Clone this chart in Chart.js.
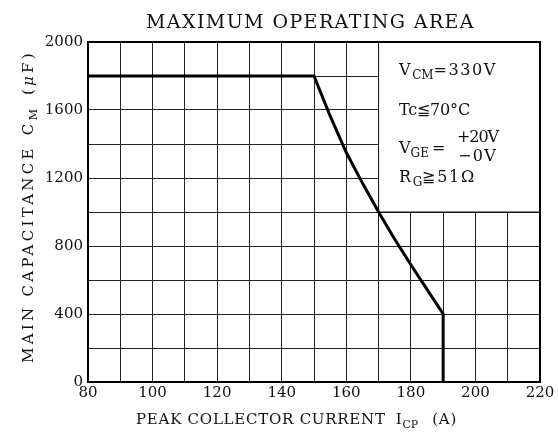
<!DOCTYPE html>
<html>
<head>
<meta charset="utf-8">
<script src="https://cdn.jsdelivr.net/npm/chart.js@4/dist/chart.umd.min.js"></script>
<style>
  html, body { margin: 0; padding: 0; background: #fff; }
  #wrap { width: 558px; height: 446px; }
</style>
</head>
<body>
<div id="wrap"><canvas id="moaChart"></canvas></div>
<script>
// peak collector current (A) vs main capacitance (uF) limit
const currentA = [80, 150, 155, 160, 165, 170, 175, 180, 185, 190, 190];
const capacitanceUF = [1800, 1800, 1565, 1350, 1170, 1000, 840, 690, 545, 400, 0];

const xRange = [80, 220];
const yRange = [0, 2000];
const xLabelStep = 20;
const yLabelStep = 400;

// region kept free for the conditions box
const boxX = [170, 220];
const boxY = [1000, 2000];

const SERIF = '"DejaVu Serif", "Liberation Serif", serif';

function font(size, italic) {
   return (italic ? 'italic ' : '') + size + 'px ' + SERIF;
}

// subscripts (sub: true) keep natural spacing, the rest is spread out
function countChars(parts) {
   return parts.reduce((n, p) => n + (p.sub ? 0 : [...p.t].length), 0);
}

function partsWidth(ctx, parts) {
   ctx.letterSpacing = '0px';
   let w = 0;
   parts.forEach(p => {
      ctx.font = font(p.size, p.italic);
      w += ctx.measureText(p.t).width + (p.gap || 0);
   });
   return w;
}

// draws a run of text parts {t, size, dy, italic, gap, sub}, spread to a given width
function drawParts(ctx, parts, x, y, width) {
   let spacing = 0;
   if (width) {
      spacing = (width - partsWidth(ctx, parts)) / countChars(parts);
   }
   let cx = x;
   parts.forEach(p => {
      ctx.letterSpacing = (p.sub ? 0 : spacing) + 'px';
      ctx.font = font(p.size, p.italic);
      ctx.fillText(p.t, cx, y + (p.dy || 0));
      cx += ctx.measureText(p.t).width + (p.gap || 0);
   });
   ctx.letterSpacing = '0px';
   return cx - x;
}

const titleParts = [{ t: 'MAXIMUM OPERATING AREA', size: 19 }];
const xTitleParts = [
   { t: 'PEAK COLLECTOR CURRENT', size: 15, gap: 10 },
   { t: 'I', size: 15 },
   { t: 'CP', size: 11, dy: 4, gap: 14, sub: true },
   { t: '(A)', size: 15 }
];
const yTitleParts = [
   { t: 'MAIN CAPACITANCE', size: 15, gap: 10 },
   { t: 'C', size: 15 },
   { t: 'M', size: 11, dy: 4, gap: 14, sub: true },
   { t: '(', size: 15 },
   { t: 'μ', size: 15, italic: true },
   { t: 'F)', size: 15 }
];

const decorPlugin = {
   id: 'decor',
   beforeDatasetsDraw(chart) {
      const { ctx, scales: { x, y } } = chart;
      const l = x.getPixelForValue(boxX[0]), r = x.getPixelForValue(boxX[1]);
      const t = y.getPixelForValue(boxY[1]), b = y.getPixelForValue(boxY[0]);
      ctx.save();
      ctx.fillStyle = '#fff';
      ctx.fillRect(l, t, r - l, b - t);
      ctx.strokeStyle = '#111';
      ctx.lineWidth = 1;
      ctx.beginPath();
      ctx.moveTo(l, t);
      ctx.lineTo(l, b);
      ctx.lineTo(r, b);
      ctx.stroke();
      ctx.restore();
   },
   afterDatasetsDraw(chart) {
      const { ctx, chartArea: a } = chart;
      ctx.save();
      ctx.strokeStyle = '#000';
      ctx.lineWidth = 2;
      ctx.strokeRect(a.left, a.top, a.right - a.left, a.bottom - a.top);
      ctx.restore();
   },
   afterDraw(chart) {
      const ctx = chart.ctx;
      ctx.save();
      ctx.fillStyle = '#111';
      ctx.textBaseline = 'alphabetic';
      ctx.textAlign = 'left';

      drawParts(ctx, titleParts, 146, 28, 329);
      drawParts(ctx, xTitleParts, 136, 424, 321);

      ctx.save();
      ctx.translate(33, 363);
      ctx.rotate(-Math.PI / 2);
      drawParts(ctx, yTitleParts, 0, 0, 313);
      ctx.restore();

      // test conditions
      const lx = 399;
      drawParts(ctx, [
         { t: 'V', size: 16 },
         { t: 'CM', size: 12, dy: 4, sub: true },
         { t: '=330V', size: 16 }
      ], lx, 75, 98);
      drawParts(ctx, [{ t: 'Tc≦70°C', size: 16 }], lx, 115, 71);
      drawParts(ctx, [
         { t: 'V', size: 16 },
         { t: 'GE', size: 12, dy: 4, gap: 3 },
         { t: '=', size: 16 }
      ], lx, 153);
      drawParts(ctx, [{ t: '+20V', size: 16 }], 457, 142, 41);
      drawParts(ctx, [{ t: '−0V', size: 16 }], 458, 161, 39);
      drawParts(ctx, [
         { t: 'R', size: 16 },
         { t: 'G', size: 12, dy: 4, sub: true },
         { t: '≧51Ω', size: 16 }
      ], lx, 182, 77);

      ctx.restore();
   }
};

const tickFont = { family: SERIF, size: 15 };

new Chart(document.getElementById('moaChart'), {
   type: 'scatter',

   data: {
      datasets: [{
         data: currentA.map((c, i) => ({ x: c, y: capacitanceUF[i] })),
         showLine: true,
         borderColor: '#000',
         borderWidth: 3,
         pointRadius: 0,
         tension: 0,
         fill: false
      }]
   },

   options: {
      responsive: true,
      maintainAspectRatio: false,
      animation: false,
      devicePixelRatio: 1,

      layout: {
         padding: { top: 42, right: 18, left: 0, bottom: 0 }
      },

      plugins: {
         legend: { display: false },
         title: { display: false },
         tooltip: { enabled: false }
      },

      scales: {
         x: {
            type: 'linear',
            min: xRange[0],
            max: xRange[1],
            afterFit(scale) { scale.height = 64; },
            ticks: {
               stepSize: 10,
               autoSkip: false,
               maxRotation: 0,
               padding: 2,
               color: '#111',
               font: tickFont,
               callback: v => (v % xLabelStep === 0 ? String(v) : '')
            },
            grid: {
               color: '#222',
               lineWidth: 1,
               drawTicks: false
            },
            border: {
               color: '#000',
               width: 2
            }
         },

         y: {
            min: yRange[0],
            max: yRange[1],
            afterFit(scale) { scale.width = 88; },
            ticks: {
               stepSize: 200,
               autoSkip: false,
               padding: 5,
               color: '#111',
               font: tickFont,
               callback: v => (v % yLabelStep === 0 ? String(v) : '')
            },
            grid: {
               color: '#222',
               lineWidth: 1,
               drawTicks: false
            },
            border: {
               color: '#000',
               width: 2
            }
         }
      }
   },

   plugins: [decorPlugin]
});
</script>
</body>
</html>
